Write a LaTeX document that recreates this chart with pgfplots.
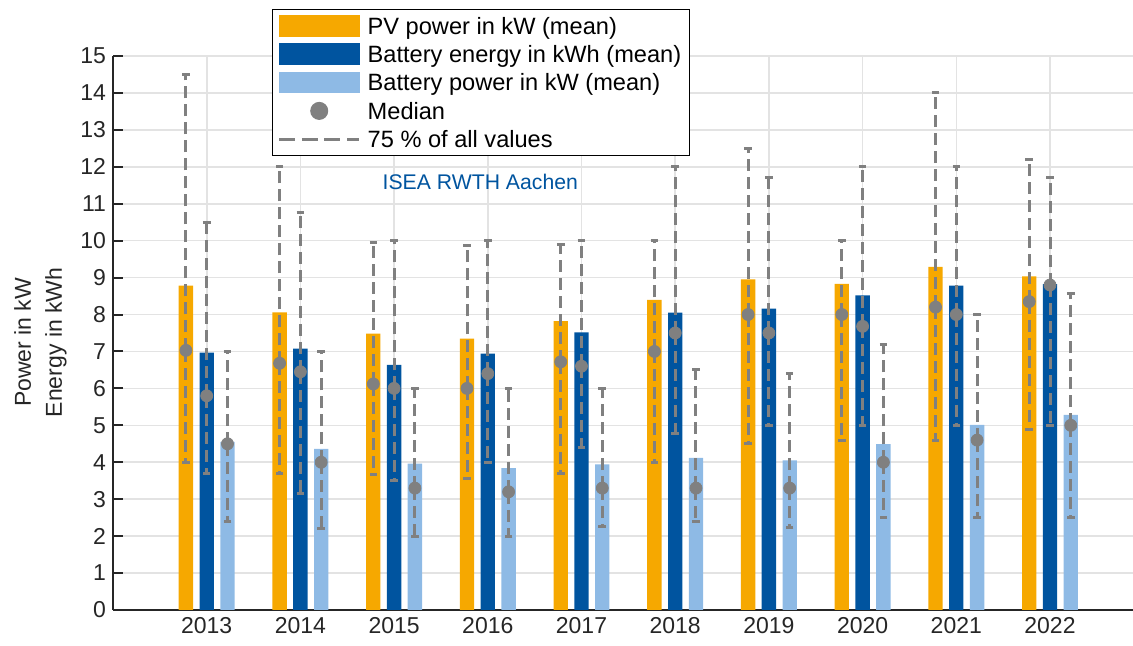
\documentclass[border=0pt]{standalone}
\usepackage{fontspec}
\setmainfont{Liberation Sans}
\usepackage{pgfplots}
\usepackage{pgfplotstable}
\pgfplotsset{compat=1.18}
\definecolor{pvorange}{HTML}{F6A800}
\definecolor{rwthblue}{HTML}{00549F}
\definecolor{lightblue}{HTML}{8EBAE5}
\definecolor{medgray}{HTML}{808080}
\definecolor{gridgray}{HTML}{E3E3E3}
\definecolor{axisdark}{HTML}{262626}

\pgfplotstableread{
year pvm  pvmed pvlo pvhi  bem  bemed belo behi  bpm  bpmed bplo bphi
2013 8.78 7.03  4.00 14.50 6.97 5.80  3.70 10.50 4.55 4.50  2.40 7.00
2014 8.06 6.68  3.70 12.00 7.08 6.45  3.15 10.75 4.36 4.00  2.20 7.00
2015 7.48 6.12  3.68 9.95  6.64 6.00  3.50 10.00 3.96 3.30  2.00 6.00
2016 7.35 6.00  3.56 9.87  6.94 6.40  4.00 10.00 3.84 3.20  2.00 6.00
2017 7.82 6.72  3.69 9.90  7.52 6.60  4.41 10.00 3.94 3.30  2.25 6.00
2018 8.40 7.00  4.00 10.00 8.05 7.50  4.78 12.00 4.12 3.30  2.40 6.50
2019 8.95 8.00  4.50 12.50 8.16 7.50  5.00 11.70 4.05 3.30  2.23 6.40
2020 8.83 8.00  4.60 10.00 8.52 7.68  5.00 12.00 4.49 4.00  2.50 7.20
2021 9.29 8.20  4.60 14.00 8.78 8.00  5.00 12.00 5.01 4.60  2.50 8.00
2022 9.03 8.35  4.90 12.20 8.82 8.80  5.00 11.70 5.28 5.00  2.50 8.57
}\datatable

\pgfplotsset{
  medplot/.style={only marks, mark=*, mark size=3pt, color=medgray,
    mark options={solid, fill=medgray, draw=medgray}, forget plot,
    error bars/.cd, y dir=both, y explicit,
    error bar style={line width=1.5pt, dash pattern=on 6pt off 3pt, color=medgray},
    error mark=-,
    error mark options={solid, rotate=90, line width=1.5pt, mark size=1.9pt, color=medgray}},
  barplot/.style={ybar, bar width=0.153, draw=none, forget plot}
}

\begin{document}
\begin{tikzpicture}
\useasboundingbox (-56.5pt,-18pt) rectangle (510pt,305pt);
\begin{axis}[
  at={(0,0)}, anchor=south west,
  scale only axis, width=510pt, height=277pt,
  xmin=2012, xmax=2022.886, ymin=0, ymax=15,
  axis lines*=left,
  axis line style={-, color=axisdark, line width=1pt},
  xtick={2013,2014,2015,2016,2017,2018,2019,2020,2021,2022},
  xticklabels={2013,2014,2015,2016,2017,2018,2019,2020,2021,2022},
  ytick={0,1,...,15},
  tick align=inside, major tick length=5.2pt,
  tick style={color=axisdark, line width=1pt},
  grid=major, grid style={color=gridgray, line width=0.8pt},
  ticklabel style={font=\fontsize{11.5}{13}\selectfont, text=axisdark},
  /pgf/number format/assume math mode=true,
  ylabel={Power in kW\\Energy in kWh},
  ylabel style={align=center, font=\fontsize{11.5}{15.5}\selectfont, text=axisdark, at={(ticklabel cs:0.483)}},
  legend cell align=left,
  legend style={at={(rel axis cs:0.156,1.085)}, anchor=north west, draw=black, line width=0.6pt,
    fill=white, font=\fontsize{11.8}{14}\selectfont, inner xsep=2.5pt, inner ysep=1pt,
    column sep=2pt, row sep=0pt,
    nodes={inner sep=1.5pt, text height=9.8pt, text depth=1.4pt}},
]
\addplot[barplot, bar shift=-0.222, fill=pvorange] table[x=year, y=pvm]{\datatable};
\addplot[barplot, bar shift=0, fill=rwthblue] table[x=year, y=bem]{\datatable};
\addplot[barplot, bar shift=0.222, fill=lightblue] table[x=year, y=bpm]{\datatable};

\addplot[medplot] table[x expr=\thisrow{year}-0.222, y=pvmed,
  y error plus expr=\thisrow{pvhi}-\thisrow{pvmed}, y error minus expr=\thisrow{pvmed}-\thisrow{pvlo}]{\datatable};
\addplot[medplot] table[x=year, y=bemed,
  y error plus expr=\thisrow{behi}-\thisrow{bemed}, y error minus expr=\thisrow{bemed}-\thisrow{belo}]{\datatable};
\addplot[medplot] table[x expr=\thisrow{year}+0.222, y=bpmed,
  y error plus expr=\thisrow{bphi}-\thisrow{bpmed}, y error minus expr=\thisrow{bpmed}-\thisrow{bplo}]{\datatable};

\addlegendimage{legend image code/.code={\fill[pvorange] (0pt,-5.15pt) rectangle (40pt,5.15pt);}}
\addlegendentry{PV power in kW (mean)}
\addlegendimage{legend image code/.code={\fill[rwthblue] (0pt,-5.15pt) rectangle (40pt,5.15pt);}}
\addlegendentry{Battery energy in kWh (mean)}
\addlegendimage{legend image code/.code={\fill[lightblue] (0pt,-5.15pt) rectangle (40pt,5.15pt);}}
\addlegendentry{Battery power in kW (mean)}
\addlegendimage{legend image code/.code={\fill[medgray] (20pt,0pt) circle (4.2pt);}}
\addlegendentry{Median}
\addlegendimage{legend image code/.code={\draw[medgray, line width=1.5pt, dash pattern=on 8pt off 3.3pt] (0pt,0pt) -- (40pt,0pt);}}
\addlegendentry{75 \% of all values}

\node[text=rwthblue, font=\fontsize{10.6}{12}\selectfont] at (axis cs:2015.92,11.59) {ISEA RWTH Aachen};
\end{axis}
\end{tikzpicture}
\end{document}
